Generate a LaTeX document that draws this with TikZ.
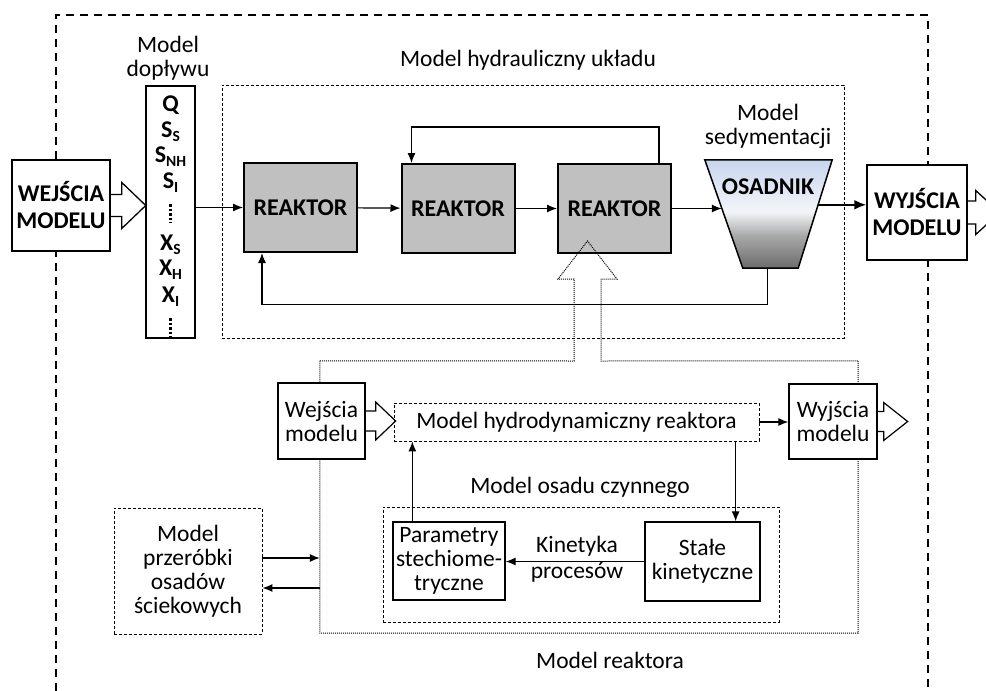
\documentclass[tikz,border=0pt]{standalone}
\usepackage{fontspec}
\setmainfont{Carlito}
\usetikzlibrary{arrows.meta,calc}
\definecolor{reakgray}{HTML}{C0C0C0}
\definecolor{setA}{HTML}{6C6C6C}
\definecolor{setB}{HTML}{A8A8A8}
\definecolor{setW}{HTML}{F3F5F9}
\definecolor{setC}{HTML}{C8D5EE}
\pgfdeclareverticalshading{settler}{100bp}{color(0bp)=(setA); color(25bp)=(setA); color(40bp)=(setB); color(51bp)=(setW); color(75bp)=(setC); color(100bp)=(setC)}
\newcommand\hollowR[6]{%
  \draw[#6] ($(#1.east)+(0,-#2)$) -- ++(#3,0) -- ++(0,#2-#4) -- ($(#1.east)+(#3+#5,0)$) -- ($(#1.east)+(#3,#4)$) -- ++(0,#2-#4) -- ($(#1.east)+(0,#2)$);}
\tikzset{
  base/.style={font=\fontsize{23.5}{24}\selectfont, align=center, inner sep=0pt},
  bbase/.style={font=\bfseries\fontsize{24}{27}\selectfont, align=center, inner sep=0pt},
  bx/.style={base, draw, line width=1.3pt, fill=white},
  bigbx/.style={bbase, draw, line width=1.5pt, fill=white},
  reak/.style={bbase, draw, line width=2pt, fill=reakgray, minimum width=113pt, minimum height=89pt},
  dbox/.style={draw, line width=0.9pt, dash pattern=on 3pt off 2pt},
  dotbox/.style={draw, line width=1pt, dash pattern=on 1pt off 1pt},
  outer/.style={line width=1.3pt, dash pattern=on 8pt off 6pt},
  arr/.style={line width=1.2pt, -{Latex[length=10pt,width=8pt]}},
  arrthick/.style={line width=2pt, -{Latex[length=12pt,width=10pt]}},
  var/.style={bbase},
  vdots/.style={line width=3pt, dash pattern=on 2.5pt off 2pt}
}
\newcommand\sbs[1]{\raisebox{-0.35ex}{\fontsize{15.5}{15.5}\selectfont #1}}
\begin{document}
\begin{tikzpicture}[x=1pt,y=-1pt]
\useasboundingbox (0,0) rectangle (986,691);
% outer frame
\draw[outer] (56,691) -- (56,15) -- (928,15) -- (928,691);
% hydraulic model box
\node[dbox, minimum width=622pt, minimum height=253pt, inner sep=0pt] (hyd) at (533,211.5) {};
\node[base] (hydlab) at (528,60) {Model hydrauliczny układu};
% input model
\node[base] (doplab) at (168,58) {Model\\dopływu};
\node[draw, line width=1.3pt, minimum width=49pt, minimum height=252pt, inner sep=0pt] (col) at (170.5,212) {};
\node[var] (vq) at (170.5,105) {Q};
\node[var] (vss) at (170.5,132) {S\sbs{S}};
\node[var] (vsnh) at (170.5,157) {S\sbs{NH}};
\node[var] (vsi) at (170.5,183) {S\sbs{I}};
\draw[vdots] (170.5,204) -- (170.5,223);
\node[var] (vxs) at (170.5,245) {X\sbs{S}};
\node[var] (vxh) at (170.5,270) {X\sbs{H}};
\node[var] (vxi) at (170.5,297) {X\sbs{I}};
\draw[vdots] (170.5,318) -- (170.5,338);
% inputs
\node[bigbx, minimum width=98pt, minimum height=91pt] (wej) at (61,205.5) {WEJŚCIA\\MODELU};
\hollowR{wej}{11}{11}{23}{24}{line width=1.3pt}
% reactors
\node[reak] (r1) at (300.5,207.5) {REAKTOR};
\node[reak] (r2) at (458,208.5) {REAKTOR};
\node[reak] (r3) at (614.5,208.5) {REAKTOR};
\draw[arr] (r1.west -| col.east) -- (r1.west);
\draw[arr] (r1) -- (r2);
\draw[arr] (r2) -- (r3);
% settler
\node[base] (sedlab) at (768,126) {Model\\sedymentacji};
\node[minimum width=127pt, minimum height=108pt, inner sep=0pt] (osad) at (768.5,214) {};
\shade[draw, line width=1.5pt, shading=settler] (osad.north west) -- (osad.north east) -- ($(osad.south east)+(-34,0)$) -- ($(osad.south west)+(38,0)$) -- cycle;
\node[bbase] (osadlab) at (768,187) {OSADNIK};
\coordinate (osL) at ($(osad.north west)+(17,0)$);
\coordinate (osR) at ($(osad.north east)+(-14,45)$);
\coordinate (osB) at ($(osad.south)+(-1,0)$);
\draw[arr] (r3.east) -- (r3.east -| osL);
% feedback loops
\draw[arr] ($(r3.north east)+(-13,0)$) -- ++(0,-36) -| ($(r2.north west)+(11,0)$);
\draw[arr] (osB) -- ++(0,36) -| ($(r1.south west)+(19,0)$);
% outputs
\node[bigbx, minimum width=100pt, minimum height=95pt] (wy) at (917,212.5) {WYJŚCIA\\MODELU};
\hollowR{wy}{11.5}{8}{22}{24}{line width=1.3pt}
\draw[arrthick] (osR) -- (osR -| wy.west);
% reactor model
\node[minimum width=538pt, minimum height=272pt, inner sep=0pt] (rm) at (589,497) {};
\draw[dotbox] (rm.north west) -- (574,361) -- (574,279) -- (558,279) -- (587.5,241) -- (617,279) -- (601,279) -- (601,361) -- (rm.north east) -- (rm.south east) -- (rm.south west) -- cycle;
\node[base] (rmlab) at (610,660) {Model reaktora};
% reactor inputs / outputs
\node[bx, minimum width=87pt, minimum height=76pt] (wej2) at (321.5,421) {Wejścia\\modelu};
\hollowR{wej2}{10}{10}{19}{20}{line width=1.2pt}
\node[base, dbox, minimum width=365pt, minimum height=38pt] (hydro) at (576.5,422) {Model hydrodynamiczny reaktora};
\node[bx, minimum width=88pt, minimum height=75pt] (wyj2) at (833,421.5) {Wyjścia\\modelu};
\hollowR{wyj2}{10}{6}{19}{24}{line width=1.2pt}
\draw[arr] (hydro.east) -- (hydro.east -| wyj2.west);
% activated sludge
\node[base] (actlab) at (580,487) {Model osadu czynnego};
\node[dbox, minimum width=396pt, minimum height=115pt, inner sep=0pt] (act) at (581,564.5) {};
\node[bx, minimum width=112pt, minimum height=78pt] (par) at (449,561) {Parametry\\stechiome-\\tryczne};
\node[bx, minimum width=115pt, minimum height=79pt] (sta) at (702.5,561.5) {Stałe\\kinetyczne};
\draw[arr] (sta.west) -- (sta.west -| par.east);
\node[base] (kinlab) at (577,546) {Kinetyka};
\node[base] (proclab) at (577,572) {procesów};
\draw[arr] ($(par.north west)+(20,0)$) coordinate (p1) -- (p1 |- hydro.south);
\coordinate (s1) at ($(sta.north east)+(-25,0)$);
\draw[arr] (s1 |- hydro.south) -- (s1);
% sludge processing
\node[base, dbox, fill=white, minimum width=148pt, minimum height=126pt] (przer) at (188,571) {Model\\przeróbki\\osadów\\ściekowych};
\draw[arr] ($(przer.east)+(0,-13)$) coordinate (q1) -- (q1 -| rm.west);
\coordinate (q2) at ($(przer.east)+(0,17)$);
\draw[arr] (q2 -| rm.west) -- (q2);
\end{tikzpicture}
\end{document}
